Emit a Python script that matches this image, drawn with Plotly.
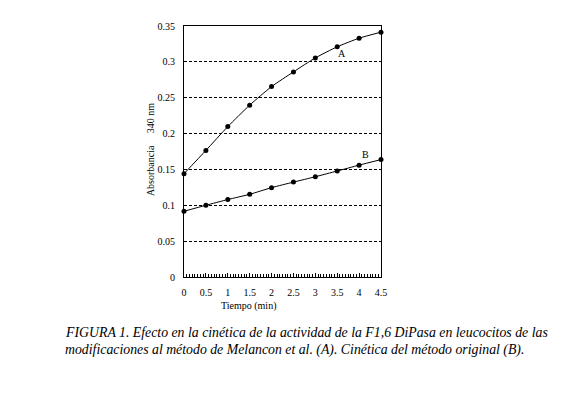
import plotly.graph_objects as go

time_min = [0, 0.5, 1, 1.5, 2, 2.5, 3, 3.5, 4, 4.5]
abs_A = [0.144, 0.1765, 0.2097, 0.2396, 0.2655, 0.286, 0.3055, 0.321, 0.333, 0.3414]
abs_B = [0.0917, 0.100, 0.108, 0.1153, 0.1246, 0.1323, 0.1398, 0.1478, 0.156, 0.1637]
x_ticks = [0, 0.5, 1, 1.5, 2, 2.5, 3, 3.5, 4, 4.5]
x_ticktext = ["0", "0.5", "1", "1.5", "2", "2.5", "3", "3.5", "4", "4.5"]
y_ticks = [0, 0.05, 0.1, 0.15, 0.2, 0.25, 0.3, 0.35]
y_ticktext = ["0", "0.05", "0.1", "0.15", "0.2", "0.25", "0.3", "0.35"]

serif = "Liberation Serif"

fig = go.Figure()
for ys in (abs_A, abs_B):
    fig.add_trace(go.Scatter(
        x=time_min, y=ys, mode="lines+markers",
        line=dict(color="black", width=1, shape="spline", smoothing=0.6),
        marker=dict(color="black", size=5, symbol="circle"),
        showlegend=False, cliponaxis=False,
    ))

# page body has an 8px margin; compensate so plot area sits at x 184-381, y 21-277
fig.update_layout(
    width=572, height=389,
    margin=dict(l=176, r=199, t=13, b=120),
    paper_bgcolor="white", plot_bgcolor="white",
    font=dict(family=serif, size=10, color="black"),
)
fig.update_xaxes(
    range=[0, 4.5], tickvals=x_ticks, ticktext=x_ticktext,
    showline=True, linecolor="black", linewidth=1, mirror=True,
    ticks="inside", ticklen=4, tickcolor="black", tickwidth=1,
    minor=dict(dtick=0.0625, ticks="inside", ticklen=3, tickcolor="black", tickwidth=1),
    ticklabelstandoff=6,
    showgrid=False, zeroline=False, tickfont=dict(family=serif, size=10),
)
fig.update_yaxes(
    range=[0, 0.35], tickvals=y_ticks, ticktext=y_ticktext,
    showline=True, linecolor="black", linewidth=1, mirror=True,
    ticks="", ticklabelstandoff=6,
    showgrid=True, gridcolor="black", gridwidth=1, griddash="3px,2px",
    zeroline=False, tickfont=dict(family=serif, size=10),
)

def px(xp):
    return (xp - 184) / 197

def py(yp):
    return (277 - yp) / 256

cap_font = dict(family=serif, size=13.8, style="italic")
annos = [
    dict(text="A", x=3.62, y=0.311, xref="x", yref="y", showarrow=False,
         font=dict(family=serif, size=10)),
    dict(text="B", x=4.15, y=0.171, xref="x", yref="y", showarrow=False,
         font=dict(family=serif, size=10)),
    dict(text="Tiempo (min)", x=px(248), y=py(307), xref="paper", yref="paper",
         xanchor="center", yanchor="middle", showarrow=False, font=dict(family=serif, size=10)),
    dict(text="340 nm", x=px(150), y=py(115), xref="paper", yref="paper",
         xanchor="center", yanchor="middle", textangle=-90, showarrow=False,
         font=dict(family=serif, size=10)),
    dict(text="Absorbancia", x=px(150), y=py(169), xref="paper", yref="paper",
         xanchor="center", yanchor="middle", textangle=-90, showarrow=False,
         font=dict(family=serif, size=10)),
    dict(text="FIGURA 1. Efecto en la cinética de la actividad de la F1,6 DiPasa en leucocitos de las",
         x=px(63), y=py(334), xref="paper", yref="paper",
         xanchor="left", yanchor="middle", showarrow=False, font=cap_font),
    dict(text="modificaciones al método de Melancon et al. (A). Cinética del método original (B).",
         x=px(63), y=py(351), xref="paper", yref="paper",
         xanchor="left", yanchor="middle", showarrow=False, font=cap_font),
]
fig.update_layout(annotations=annos)

fig.write_html("out.html")
